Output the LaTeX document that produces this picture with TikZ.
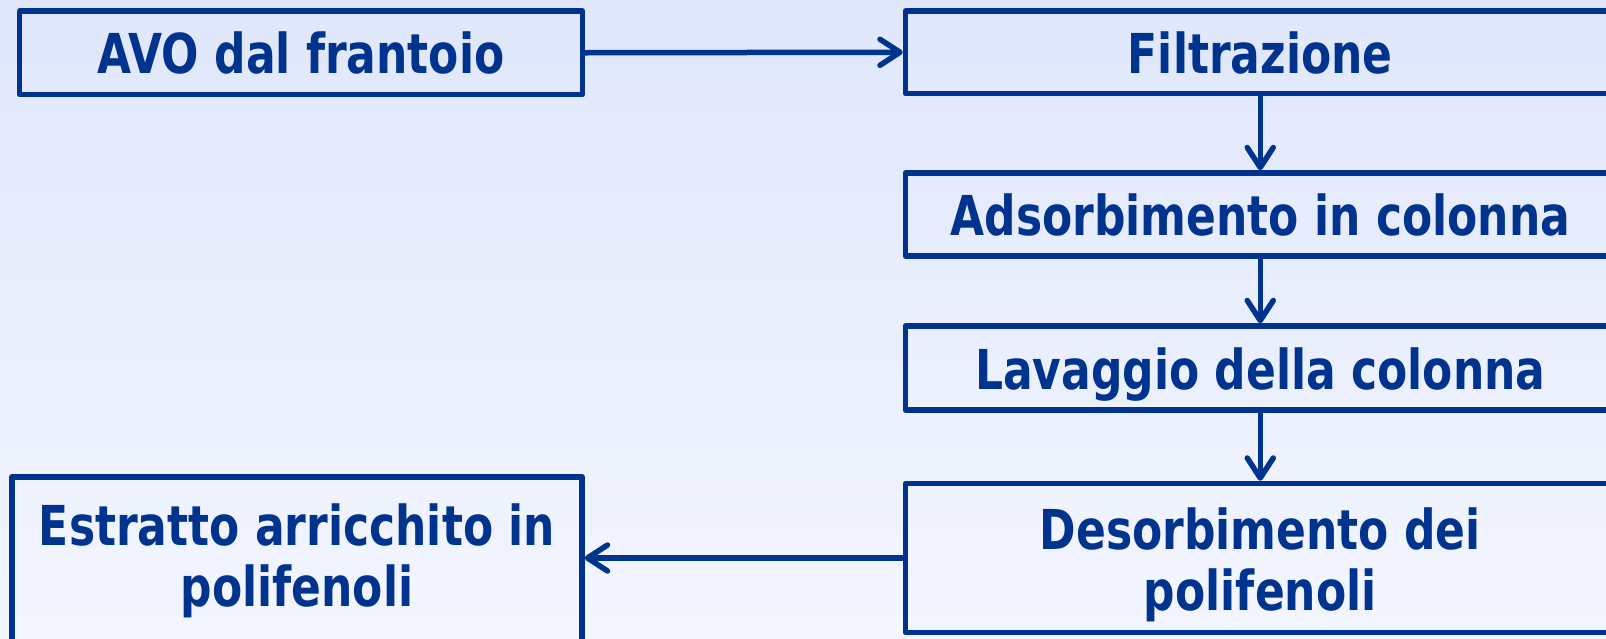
\documentclass[tikz,border=0pt]{standalone}
\usepackage{fontspec}
\setmainfont{DejaVu Sans}[FakeStretch=0.80]
\usetikzlibrary{arrows.meta}
\definecolor{ink}{RGB}{0,51,141}
\definecolor{bgtop}{RGB}{224,231,251}
\definecolor{bgbot}{RGB}{243,246,254}
\tikzset{
  box/.style={draw=ink, line width=5.5pt, rectangle, text=ink, font=\bfseries\fontsize{55}{61}\selectfont, inner sep=0pt, line join=round},
  oneline/.style={text height=47pt, text depth=5pt},
  arr/.style={draw=ink, line width=5.5pt, -{Straight Barb[length=20pt,width=26pt,round]}}
}
\begin{document}
\begin{tikzpicture}[x=1pt,y=-1pt]
\useasboundingbox (0,0) rectangle (1606,638);
\shade[top color=bgtop, bottom color=bgbot] (0,0) rectangle (1606,638);
\clip (0,0) rectangle (1606,638);
\node[box, oneline, minimum width=562.6pt, minimum height=83.5pt] (avo) at (301,52.75) {AVO dal frantoio};
\node[box, oneline, minimum width=709.5pt, minimum height=82.5pt] (filt) at (1260.25,52.25) {Filtrazione};
\node[box, oneline, minimum width=709.5pt, minimum height=83pt] (ads) at (1260.25,214.5) {Adsorbimento in colonna};
\node[box, oneline, minimum width=709.5pt, minimum height=84pt] (lav) at (1260.25,368) {Lavaggio della colonna};
\node[box, minimum width=709.5pt, minimum height=149pt] (des) at (1260.25,558) {\raisebox{-16pt}[0pt][0pt]{\begin{tabular}{@{}c@{}}Desorbimento dei\\polifenoli\end{tabular}}};
\node[box, minimum width=570pt, minimum height=168pt] (est) at (297,561) {\raisebox{-9pt}[0pt][0pt]{\begin{tabular}{@{}c@{}}Estratto arricchito in\\polifenoli\end{tabular}}};
\draw[arr] (avo.east) -- (filt.west);
\draw[arr] (filt.south) -- (ads.north);
\draw[arr] (ads.south) -- (lav.north);
\draw[arr] (lav.south) -- (des.north);
\draw[arr] (des.west) -- (des.west -| est.east);
\end{tikzpicture}
\end{document}
